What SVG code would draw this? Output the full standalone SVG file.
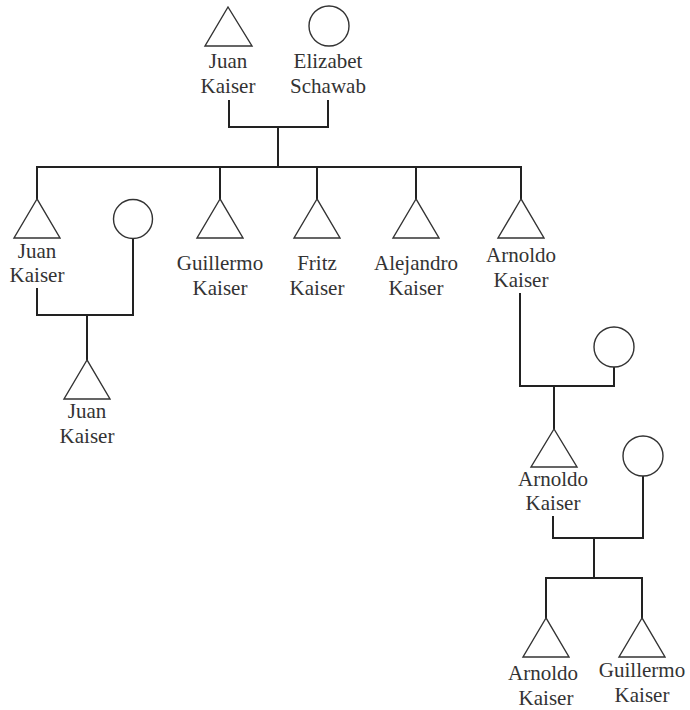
<svg xmlns="http://www.w3.org/2000/svg" width="690" height="710" viewBox="0 0 690 710">
<style>
.m{fill:#fff;stroke:#333;stroke-width:1.4}
.f{fill:#fff;stroke:#333;stroke-width:1.4}
.c{fill:none;stroke:#222;stroke-width:2}
text{font-family:'Liberation Serif',Tinos,'Times New Roman','DejaVu Serif',serif;font-size:21px;fill:#333;text-anchor:middle}
</style>
<rect width="690" height="710" fill="#fff"/>
<g id="connectors">
<path class="c" d="M229,100V127H328V100M278,127V167M37,199V167H521V199M220,167V199M317,167V199M416,167V199"/>
<path class="c" d="M37,288V315H133V238M87,315V360"/>
<path class="c" d="M520,293V386H614V367M554,386V429"/>
<path class="c" d="M553,516V538H643V476M594,538V578M546,618V578H642V618"/>
</g>
<g id="juan-sr"><polygon class="m" points="228,7 205,46 252,46"/><text x="228" y="68">Juan</text><text x="228" y="93">Kaiser</text></g>
<g id="elizabet"><circle class="f" cx="329" cy="26" r="20"/><text x="328" y="68">Elizabet</text><text x="328" y="93">Schawab</text></g>
<g id="juan-2"><polygon class="m" points="37,199 14,238 60,238"/><text x="37" y="258">Juan</text><text x="37" y="282">Kaiser</text></g>
<g id="wife-juan-2"><circle class="f" cx="133" cy="219" r="19.5"/></g>
<g id="guillermo-2"><polygon class="m" points="220,199 197,238 243,238"/><text x="220" y="270">Guillermo</text><text x="220" y="295">Kaiser</text></g>
<g id="fritz"><polygon class="m" points="317,199 294,238 340,238"/><text x="317" y="270">Fritz</text><text x="317" y="295">Kaiser</text></g>
<g id="alejandro"><polygon class="m" points="416,199 393,238 439,238"/><text x="416" y="270">Alejandro</text><text x="416" y="295">Kaiser</text></g>
<g id="arnoldo-2"><polygon class="m" points="521,199 498,238 544,238"/><text x="521" y="262">Arnoldo</text><text x="521" y="287">Kaiser</text></g>
<g id="juan-3"><polygon class="m" points="87,360 64,399 110,399"/><text x="87" y="418">Juan</text><text x="87" y="443">Kaiser</text></g>
<g id="wife-arnoldo-2"><circle class="f" cx="614" cy="347" r="20"/></g>
<g id="arnoldo-3"><polygon class="m" points="554,429 531,467 577,467"/><text x="553" y="486">Arnoldo</text><text x="553" y="510">Kaiser</text></g>
<g id="wife-arnoldo-3"><circle class="f" cx="643" cy="456" r="20"/></g>
<g id="arnoldo-4"><polygon class="m" points="546,618 523,657 569,657"/><text x="543" y="680">Arnoldo</text><text x="546" y="705">Kaiser</text></g>
<g id="guillermo-4"><polygon class="m" points="642,618 619,657 665,657"/><text x="642" y="677">Guillermo</text><text x="642" y="702">Kaiser</text></g>
</svg>
